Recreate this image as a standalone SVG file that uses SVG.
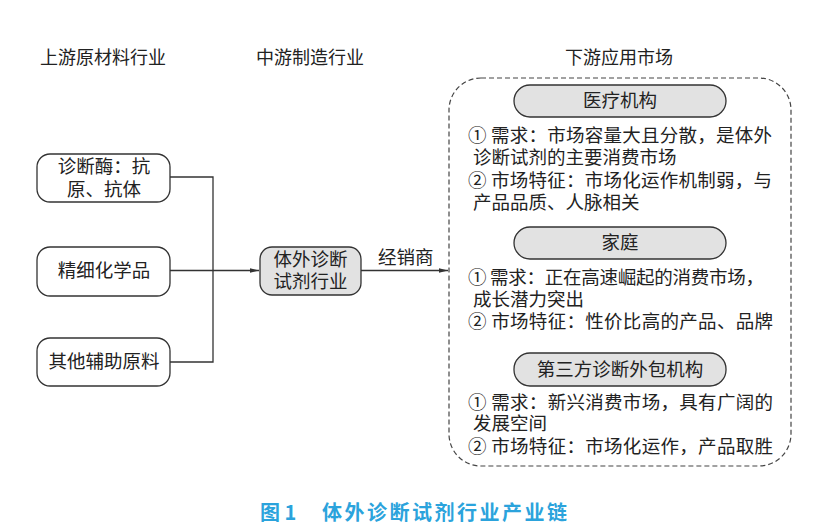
<svg xmlns="http://www.w3.org/2000/svg" width="827" height="526" viewBox="0 0 827 526">
<style>
text{font-family:"Noto Sans CJK SC","Noto Sans",sans-serif;fill:#222;font-size:18.5px}
.hd{font-size:18px}
.mid{text-anchor:middle}
.box{fill:#fff;stroke:#333;stroke-width:1.3}
.gbox{fill:#e2e2e2;stroke:#333;stroke-width:1.3}
.ln{fill:none;stroke:#333;stroke-width:1.3}
.cap{fill:#2ba3dc;font-size:20px;font-weight:bold}
</style>
<defs>
<marker id="ar" markerWidth="10" markerHeight="6" refX="9" refY="3" orient="auto" markerUnits="userSpaceOnUse">
<path d="M0,0.8 L9,3 L0,5.2 Z" fill="#333"/>
</marker>
</defs>
<rect width="827" height="526" fill="#fff"/>
<g id="headers">
<text class="hd" x="40" y="64">上游原材料行业</text>
<text class="hd" x="256" y="64">中游制造行业</text>
<text class="hd" x="565" y="64">下游应用市场</text>
</g>
<g id="connectors">
<path class="ln" d="M170,177 H213 V362 H170"/>
<path class="ln" d="M170,270.5 H259" marker-end="url(#ar)"/>
<path class="ln" d="M361,270.5 H448" marker-end="url(#ar)"/>
<text x="378" y="264">经销商</text>
</g>
<g id="n1">
<rect class="box" x="37" y="154" width="133" height="48" rx="13"/>
<text class="mid" x="104" y="173">诊断酶：抗</text>
<text class="mid" x="104" y="196">原、抗体</text>
</g>
<g id="n2">
<rect class="box" x="37" y="247" width="133" height="49" rx="13"/>
<text class="mid" x="104" y="277">精细化学品</text>
</g>
<g id="n3">
<rect class="box" x="37" y="338" width="133" height="48" rx="13"/>
<text class="mid" x="104" y="368">其他辅助原料</text>
</g>
<g id="n4">
<rect class="gbox" x="260" y="247" width="101" height="48" rx="12"/>
<text class="mid" x="310.5" y="266">体外诊断</text>
<text class="mid" x="310.5" y="288">试剂行业</text>
</g>
<g id="downstream">
<rect x="449" y="78" width="342" height="388" rx="32" fill="none" stroke="#444" stroke-width="1.2" stroke-dasharray="5 3"/>
</g>
<g id="n5">
<rect class="gbox" x="514" y="85" width="212" height="32" rx="16"/>
<text class="mid" x="620" y="107">医疗机构</text>
<text x="468" y="142" textLength="304" lengthAdjust="spacing">① 需求：市场容量大且分散，是体外</text>
<text x="473" y="164">诊断试剂的主要消费市场</text>
<text x="468" y="187" textLength="304" lengthAdjust="spacing">② 市场特征：市场化运作机制弱，与</text>
<text x="473" y="209">产品品质、人脉相关</text>
</g>
<g id="n6">
<rect class="gbox" x="514" y="227" width="212" height="32" rx="16"/>
<text class="mid" x="620" y="249">家庭</text>
<text x="468" y="284" textLength="296" lengthAdjust="spacing">① 需求：正在高速崛起的消费市场，</text>
<text x="473" y="306">成长潜力突出</text>
<text x="468" y="328" textLength="305" lengthAdjust="spacing">② 市场特征：性价比高的产品、品牌</text>
</g>
<g id="n7">
<rect class="gbox" x="514" y="353" width="212" height="33" rx="16"/>
<text class="mid" x="620" y="376">第三方诊断外包机构</text>
<text x="468" y="409" textLength="305" lengthAdjust="spacing">① 需求：新兴消费市场，具有广阔的</text>
<text x="473" y="430">发展空间</text>
<text x="468" y="453" textLength="305" lengthAdjust="spacing">② 市场特征：市场化运作，产品取胜</text>
</g>
<g id="caption">
<text class="cap" x="260" y="520">图 1</text>
<text class="cap" x="322" y="520" textLength="245" lengthAdjust="spacing">体外诊断试剂行业产业链</text>
</g>
</svg>
